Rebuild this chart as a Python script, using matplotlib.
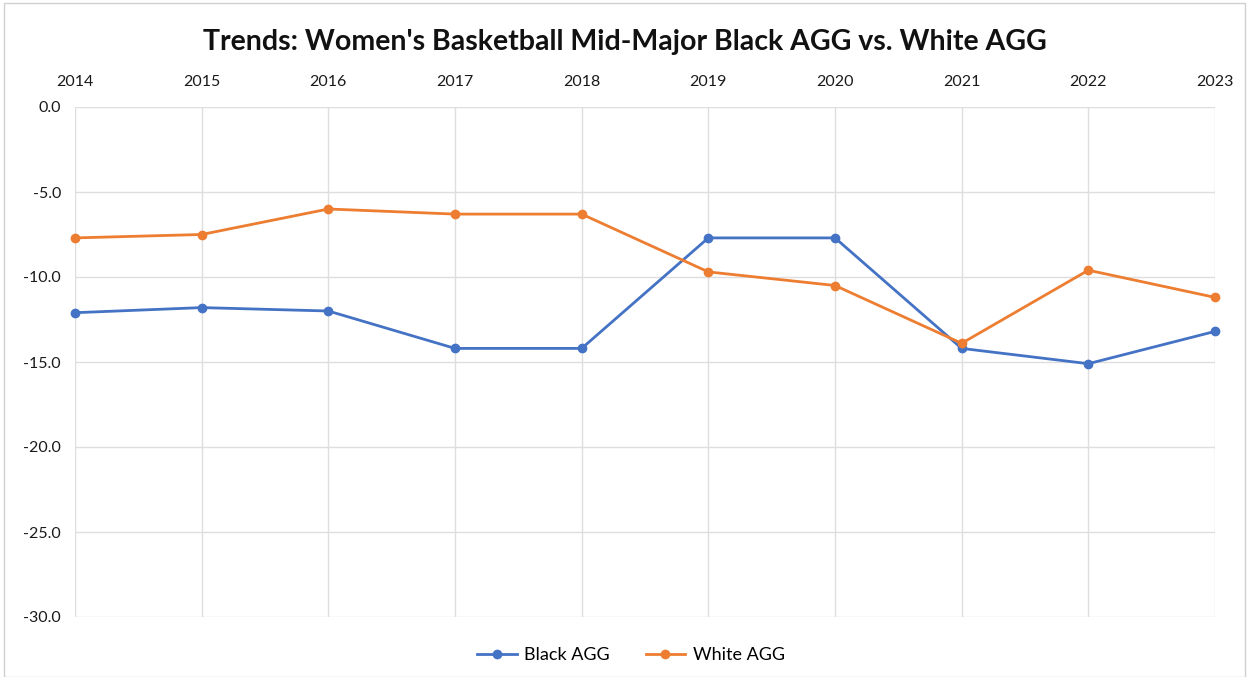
import numpy as np
import matplotlib.pyplot as plt
from matplotlib.patches import Rectangle

years = ['2014', '2015', '2016', '2017', '2018', '2019', '2020', '2021', '2022', '2023']
black_agg = [-12.1, -11.8, -12.0, -14.2, -14.2, -7.7, -7.7, -14.2, -15.1, -13.2]
white_agg = [-7.7, -7.5, -6.0, -6.3, -6.3, -9.7, -10.5, -13.9, -9.6, -11.2]
yticks = [0, -5, -10, -15, -20, -25, -30]

plt.rcParams['font.family'] = ['Lato', 'DejaVu Sans']

fig = plt.figure(figsize=(12.49, 6.77), dpi=100)
ax = fig.add_axes([75/1249, 1-617/677, (1215-75)/1249, (617-107)/677])

x = np.arange(len(years))
ax.plot(x, black_agg, color='#4472C4', lw=2, marker='o', ms=6, label='Black AGG', zorder=3, clip_on=False)
ax.plot(x, white_agg, color='#ED7D31', lw=2, marker='o', ms=6, label='White AGG', zorder=3, clip_on=False)

ax.set_xlim(0, len(years)-1)
ax.set_ylim(-30, 0)
ax.set_xticks(x)
ax.set_xticklabels(years)
ax.xaxis.tick_top()
ax.set_yticks(yticks)
ax.set_yticklabels(['%.1f' % v for v in yticks])
ax.tick_params(length=0, labelsize=11.5, colors='#1a1a1a', pad=10)
ax.tick_params(axis='x', pad=13)
ax.grid(True, color='#dedede', lw=1)
ax.set_axisbelow(True)
for s in ax.spines.values():
    s.set_visible(False)

fig.text(0.5, 1-42/677, "Trends: Women's Basketball Mid-Major Black AGG vs. White AGG",
         ha='center', va='center', fontsize=20.5, fontweight='bold', color='#111111')

fig.legend(loc='center', bbox_to_anchor=(0.505, 1-655/677), ncol=2, frameon=False,
           fontsize=13, handlelength=2.2, columnspacing=2.0, handletextpad=0.4)

fig.patches.append(Rectangle((4/1249, 0), 1-8/1249, 1-3/677, transform=fig.transFigure,
                             fill=False, edgecolor='#d0d0d0', lw=1))

fig.savefig('out.png', dpi=100)
